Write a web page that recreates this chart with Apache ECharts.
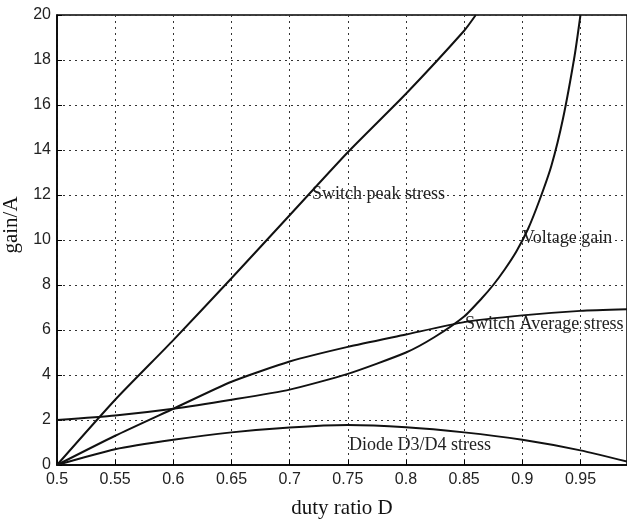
<!DOCTYPE html>
<html>
<head>
<meta charset="utf-8">
<script src="https://cdn.jsdelivr.net/npm/echarts@6/dist/echarts.min.js"></script>
<style>html,body{margin:0;padding:0;background:#fff}#c{width:627px;height:521px}</style>
</head>
<body>
<div id="c"></div>
<script>
// Switch peak stress
var peakD = [0.5, 0.55, 0.6, 0.65, 0.7, 0.75, 0.8, 0.85, 0.86];
var peakVal = [0, 2.9, 5.55, 8.3, 11.1, 13.9, 16.5, 19.3, 20];
// Voltage gain
var gainD = [0.5, 0.55, 0.6, 0.65, 0.7, 0.75, 0.8, 0.825, 0.85, 0.865, 0.875, 0.885, 0.895, 0.905, 0.915, 0.925, 0.935, 0.945, 0.95];
var gainVal = [2.0, 2.2, 2.5, 2.9, 3.35, 4.05, 5.0, 5.7, 6.6, 7.4, 8.0, 8.7, 9.5, 10.5, 11.8, 13.3, 15.4, 18.2, 20];
// Switch Average stress
var avgD = [0.5, 0.55, 0.6, 0.65, 0.7, 0.75, 0.8, 0.85, 0.9, 0.95, 0.99];
var avgVal = [0, 1.3, 2.5, 3.7, 4.6, 5.25, 5.8, 6.35, 6.65, 6.85, 6.92];
// Diode D3/D4 stress
var diodeD = [0.5, 0.55, 0.6, 0.65, 0.7, 0.75, 0.8, 0.85, 0.9, 0.95, 0.99];
var diodeVal = [0, 0.7, 1.12, 1.45, 1.67, 1.78, 1.68, 1.45, 1.12, 0.65, 0.15];

var seriesNames = ['Switch peak stress', 'Voltage gain', 'Switch Average stress', 'Diode D3/D4 stress'];
var xTitle = 'duty ratio D';
var yTitle = 'gain/A';

function pairs(xs, ys) { return xs.map(function (x, i) { return [x, ys[i]]; }); }

var chart = echarts.init(document.getElementById('c'), null, { renderer: 'canvas' });
var lineStyle = { color: '#111', width: 2 };
function mk(name, xs, ys) {
  return { name: name, type: 'line', data: pairs(xs, ys), showSymbol: false, symbol: 'none',
    smooth: 0.2, lineStyle: lineStyle, itemStyle: { color: '#111' }, clip: true, animation: false };
}
var serif = 'Liberation Serif, Times New Roman, serif';
var sans = 'Liberation Sans, Arial, sans-serif';
chart.setOption({
  backgroundColor: '#fff',
  animation: false,
  grid: { left: 57, right: 0, top: 15, bottom: 56, containLabel: false, outerBoundsMode: 'none',
    show: true, borderColor: '#000', borderWidth: 1.5, backgroundColor: 'transparent' },
  xAxis: {
    type: 'value', min: 0.5, max: 0.99, interval: 0.05,
    name: xTitle, nameLocation: 'middle', nameGap: 33,
    nameTextStyle: { fontFamily: serif, fontSize: 21, color: '#111' },
    axisLine: { lineStyle: { color: '#000', width: 1.5 } },
    axisTick: { inside: true, length: 5, lineStyle: { color: '#000' } },
    axisLabel: { fontFamily: sans, fontSize: 16, color: '#222', margin: 7, showMaxLabel: false },
    splitLine: { show: true, lineStyle: { color: '#333', type: [2, 4], width: 1 } }
  },
  yAxis: {
    type: 'value', min: 0, max: 20, interval: 2,
    name: yTitle, nameLocation: 'middle', nameGap: 29,
    nameTextStyle: { fontFamily: serif, fontSize: 21, color: '#111', padding: [0, 0, 0, 30] },
    axisLine: { show: true, lineStyle: { color: '#000', width: 1.5 } },
    axisTick: { show: true, inside: true, length: 5, lineStyle: { color: '#000' } },
    axisLabel: { fontFamily: sans, fontSize: 16, color: '#222', margin: 6 },
    splitLine: { show: true, lineStyle: { color: '#333', type: [2, 4], width: 1 } }
  },
  graphic: [
    { type: 'text', left: 312, top: 185, style: { text: seriesNames[0], font: '18px ' + serif, fill: '#222' } },
    { type: 'text', left: 522, top: 229, style: { text: seriesNames[1], font: '18px ' + serif, fill: '#222' } },
    { type: 'text', left: 465, top: 315, style: { text: seriesNames[2], font: '18px ' + serif, fill: '#222' } },
    { type: 'text', left: 349, top: 436, style: { text: seriesNames[3], font: '18px ' + serif, fill: '#222' } }
  ],
  series: [
    mk(seriesNames[0], peakD, peakVal),
    mk(seriesNames[1], gainD, gainVal),
    mk(seriesNames[2], avgD, avgVal),
    mk(seriesNames[3], diodeD, diodeVal)
  ]
});
</script>
</body>
</html>
